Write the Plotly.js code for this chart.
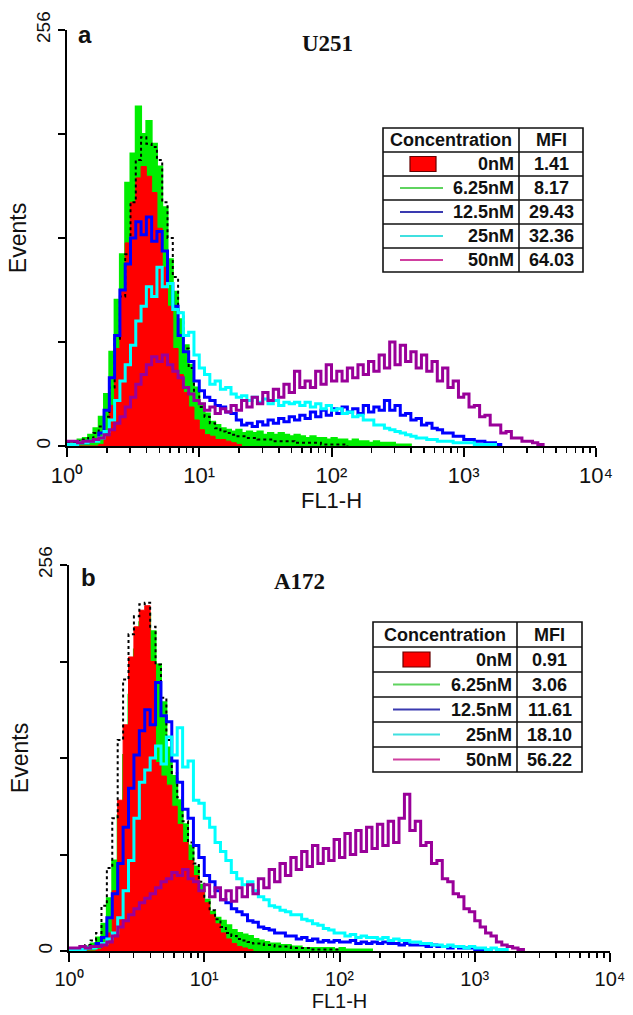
<!DOCTYPE html>
<html>
<head>
<meta charset="utf-8">
<script src="https://cdn.plot.ly/plotly-3.0.1.min.js"></script>
<style>html,body{margin:0;padding:0;background:#fff;}#chart{width:633px;height:1015px;}</style>
</head>
<body>
<div id="chart"></div>
<script>
// FL1-H channel values (log bins, 25 per decade)
const fl1Channels = [1,1.096,1.202,1.318,1.445,1.585,1.738,1.905,2.089,2.291,2.512,2.754,3.020,3.311,3.631,3.981,4.365,4.786,5.248,5.754,6.310,6.918,7.586,8.318,9.120,
 10,10.96,12.02,13.18,14.45,15.85,17.38,19.05,20.89,22.91,25.12,27.54,30.20,33.11,36.31,39.81,43.65,47.86,52.48,57.54,63.10,69.18,75.86,83.18,91.20,
 100,109.6,120.2,131.8,144.5,158.5,173.8,190.5,208.9,229.1,251.2,275.4,302.0,331.1,363.1,398.1,436.5,478.6,524.8,575.4,631.0,691.8,758.6,831.8,912.0,
 1000,1096,1202,1318,1445,1585,1738,1905,2089,2291,2512,2754,3020,3311,3631,3981];

const concentrations = ['0nM','6.25nM','12.5nM','25nM','50nM'];
const mfiU251 = [1.41, 8.17, 29.43, 32.36, 64.03];
const mfiA172 = [0.91, 3.06, 11.61, 18.10, 56.22];
const xTickVals = [1,10,100,1000,10000];
const xTickText = ['10\u2070','10\u00b9','10\u00b2','10\u00b3','10\u2074'];
const yTickVals = [0,256];
const yTickText = ['0','256'];
const yMinorTickVals = [64,128,192];

// ---- U251 (panel a) event counts per channel ----
const u251_0nM = [0,0,0,0,0,0,1,6,25,60, 95,125,150,165,172,166,156,134,110,86, 60,44,33,24,16,10,7,6,4,4, 3,2,1,0];
const u251_625nM = [3,2,4,5,7,11,18,32,58,90, 118,162,180,209,192,200,186,172,147,115, 95,78,62,50,36,26,20,15,13,11,
 10,9,10,8,9,8,9,7,8,7, 8,7,6,7,6,5,6,5,5,4, 5,4,4,3,4,3,3,2,3,2, 2,2,1,1,1,0];
const u251_125nM = [1,1,2,2,3,4,8,22,42,68, 96,112,128,138,130,141,126,132,120,100, 86,68,58,52,40,34,30,28,25,24,
 21,20,16,13,14,12,15,13,16,14, 17,15,18,16,19,17,21,18,22,19, 23,20,24,21,23,20,25,21,24,22,
 28,22,25,19,20,16,17,13,14,11, 10,8,8,6,6,4,4,3,3,2, 2,1,0];
const u251_25nM = [1,1,2,2,3,3,5,9,16,28, 40,50,62,77,86,98,92,110,98,100, 84,82,68,70,56,48,44,38,40,35,
 36,32,30,31,28,30,27,29,26,28, 25,27,26,27,25,27,24,26,23,25, 22,23,20,21,18,19,16,16,13,13,
 11,10,9,8,7,6,5,5,4,4, 3,3,3,2,2,2,2,1,1,1, 1,0];
const u251_50nM = [3,3,2,3,3,4,5,7,10,14, 18,24,30,38,44,50,55,52,56,50, 46,42,36,32,28,26,22,24,20,23,
 21,25,22,28,24,30,26,33,28,35, 30,38,33,46,36,40,36,46,38,50, 40,46,40,48,42,50,44,52,46,56,
 48,64,50,62,52,58,48,56,46,52, 40,48,36,40,30,32,24,25,18,19, 13,13,8,9,5,5,3,3,2,1, 0];
const u251_outline = [2,2,3,4,5,8,12,18,36,66, 92,118,150,176,190,186,184,176,150,128, 104,82,60,48,34,24,18,14,11,9,
 8,7,6,6,5,5,4,4,4,3, 3,3,3,2,2,2,2,2,1,1, 1,1,1,0];

// ---- A172 (panel b) event counts per channel ----
const a172_0nM = [0,0,0,0,0,1,3,12,40,100, 150,195,215,226,229,192,125,116,110,96, 84,72,60,50,40,32,24,18,12,8, 5,3,2,1,0];
const a172_625nM = [1,1,2,3,5,9,18,35,60,90, 130,170,200,218,224,212,190,165,135,116, 100,84,70,56,44,34,26,22,20,17,
 14,12,11,10,8,7,6,5,5,4, 4,3,3,2,2,2,2,2,2,1, 2,1,1,1,1,1,0];
const a172_125nM = [1,1,1,2,3,5,9,22,38,58, 82,108,130,146,160,150,178,156,152,126, 112,94,88,70,62,50,46,40,34,32,
 28,26,24,20,19,16,15,14,12,12, 10,10,8,9,7,8,6,7,6,7, 6,6,7,5,6,5,6,5,6,5,
 5,4,5,4,4,4,3,4,3,3, 2,3,2,2,2,1,1,1,0];
const a172_25nM = [1,1,1,2,2,3,5,8,12,22, 40,60,88,112,120,128,136,124,142,130, 148,122,126,100,98,88,82,72,66,60,
 52,48,44,46,40,36,34,30,29,27, 26,24,24,21,20,18,17,15,14,12, 12,10,11,9,10,9,9,8,9,7,
 8,7,7,6,6,5,5,4,4,3, 4,3,3,2,3,2,2,1,2,1, 1,0];
const a172_50nM = [2,2,3,2,3,3,4,6,10,16, 20,24,28,32,35,38,42,46,48,52, 50,54,48,46,40,44,36,42,34,40,
 33,42,36,44,38,48,42,54,46,58, 50,62,54,66,56,70,58,68,60,74, 62,78,64,80,66,82,68,84,70,86,
 72,88,104,80,86,70,72,58,60,48, 46,38,36,28,26,20,16,12,10,6, 4,3,2,1,0];
const a172_outline = [1,2,2,4,7,12,30,55,88,140, 180,210,222,230,231,215,190,168,140,118, 102,86,72,58,46,36,27,21,16,12,
 10,8,7,6,5,5,4,4,3,3, 3,2,2,2,2,1,1,1,1,1,0];

// ---- styles ----
const W = 633, H = 1015;
const X = px => px / W;
const Y = py => 1 - py / H;
const SANS = 'Liberation Sans, Arial, sans-serif';
const SERIF = 'Liberation Serif, Times New Roman, serif';
const seriesColors = ['#ff0000','#00ee00','#0000ff','#00ffff','#990099'];
const iconColors = ['#ff0000','#5fd35f','#3a3ab0','#40e0e0','#d040a0'];

function hist(ys, color, xa, ya, name, opts) {
  opts = opts || {};
  const t = {
    type: 'scatter', mode: 'lines', name: name,
    x: fl1Channels.slice(0, ys.length), y: ys,
    xaxis: xa, yaxis: ya, showlegend: false, hoverinfo: 'skip',
    line: {shape: 'hv', color: color, width: opts.width || 3, dash: opts.dash || 'solid'}
  };
  if (opts.fill) { t.fill = 'tozeroy'; t.fillcolor = color; }
  return t;
}

function panelTraces(s, xa, ya) {
  return [
    hist(s[1], seriesColors[1], xa, ya, '6.25nM', {fill: true, width: 2}),
    hist(s[0], seriesColors[0], xa, ya, '0nM', {fill: true, width: 1}),
    hist(s[5], '#000000', xa, ya, 'outline', {dash: 'dot', width: 2}),
    hist(s[2], seriesColors[2], xa, ya, '12.5nM', {width: 3}),
    hist(s[3], seriesColors[3], xa, ya, '25nM', {width: 3}),
    hist(s[4], seriesColors[4], xa, ya, '50nM', {width: 3})
  ];
}

const data = [].concat(
  panelTraces([u251_0nM, u251_625nM, u251_125nM, u251_25nM, u251_50nM, u251_outline], 'x', 'y'),
  panelTraces([a172_0nM, a172_625nM, a172_125nM, a172_25nM, a172_50nM, a172_outline], 'x2', 'y2')
);

const minorVals = [];
[1,10,100,1000].forEach(d => { for (let m = 2; m <= 9; m++) minorVals.push(d * m); });

function xAxis(domain, anchor, standoff, tickSize, titleSize) {
  return {
    domain: domain, anchor: anchor, type: 'log', range: [0, 4],
    showgrid: false, zeroline: false, showline: true, linecolor: '#000', linewidth: 2,
    tickvals: xTickVals, ticktext: xTickText, ticks: 'outside', ticklen: 9, tickwidth: 2, tickcolor: '#000',
    tickfont: {family: SANS, size: tickSize, color: '#111'},
    minor: {tickvals: minorVals, ticks: 'outside', ticklen: 5, tickwidth: 1.5, tickcolor: '#000', showgrid: false},
    title: {text: 'FL1-H', font: {family: SANS, size: titleSize, color: '#111'}, standoff: standoff},
    fixedrange: true
  };
}
function yAxis(domain, anchor) {
  return {
    domain: domain, anchor: anchor, range: [0, 256],
    showgrid: false, zeroline: false, showline: true, linecolor: '#000', linewidth: 2,
    tickvals: yTickVals, ticktext: yTickText, ticks: 'outside', ticklen: 7, tickwidth: 2, tickcolor: '#000',
    minor: {tickvals: yMinorTickVals, ticks: 'outside', ticklen: 7, tickwidth: 2, tickcolor: '#000', showgrid: false},
    tickangle: -90, tickfont: {family: SANS, size: 19, color: '#111'},
    title: {text: 'Events', font: {family: SANS, size: 23, color: '#111'}, standoff: 0},
    fixedrange: true
  };
}

const shapes = [];
const annotations = [];

function table(cfg, mfi) {
  const bottom = cfg.top + 6 * cfg.rowH;
  const ln = {color: '#111', width: 1.6};
  shapes.push({type: 'rect', xref: 'paper', yref: 'paper', x0: X(cfg.left), x1: X(cfg.right), y0: Y(bottom), y1: Y(cfg.top), line: ln, fillcolor: 'white', layer: 'above'});
  shapes.push({type: 'line', xref: 'paper', yref: 'paper', x0: X(cfg.div), x1: X(cfg.div), y0: Y(bottom), y1: Y(cfg.top), line: ln, layer: 'above'});
  for (let i = 1; i < 6; i++) {
    const yy = cfg.top + i * cfg.rowH;
    shapes.push({type: 'line', xref: 'paper', yref: 'paper', x0: X(cfg.left), x1: X(cfg.right), y0: Y(yy), y1: Y(yy), line: ln, layer: 'above'});
  }
  const txt = (text, px, py, anchor) => annotations.push({
    xref: 'paper', yref: 'paper', x: X(px), y: Y(py), xanchor: anchor, yanchor: 'middle',
    text: text, showarrow: false, font: {family: SANS, size: 18, color: '#111', weight: 'bold'}
  });
  const midY = r => cfg.top + r * cfg.rowH + cfg.rowH / 2;
  txt('Concentration', (cfg.left + cfg.div) / 2, midY(0), 'center');
  txt('MFI', (cfg.div + cfg.right) / 2, midY(0), 'center');
  concentrations.forEach((c, i) => {
    const yy = midY(i + 1);
    txt(c, cfg.div - 3, yy, 'right');
    txt(mfi[i].toFixed(2), (cfg.div + cfg.right) / 2, yy, 'center');
    if (i === 0) {
      shapes.push({type: 'rect', xref: 'paper', yref: 'paper', x0: X(cfg.box[0]), x1: X(cfg.box[1]), y0: Y(yy + 7.5), y1: Y(yy - 7.5),
        line: {color: '#600', width: 1.2}, fillcolor: iconColors[0], layer: 'above'});
    } else {
      shapes.push({type: 'line', xref: 'paper', yref: 'paper', x0: X(cfg.seg[0]), x1: X(cfg.seg[1]), y0: Y(yy), y1: Y(yy),
        line: {color: iconColors[i], width: 2}, layer: 'above'});
    }
  });
}

table({left: 383, right: 583, div: 519, top: 128, rowH: 24, box: [410, 436], seg: [400, 443]}, mfiU251);
table({left: 373, right: 582, div: 517, top: 622, rowH: 25, box: [403, 430], seg: [393, 440]}, mfiA172);

const label = (text, px, py, family, size) => annotations.push({
  xref: 'paper', yref: 'paper', x: X(px), y: Y(py), xanchor: 'center', yanchor: 'middle',
  text: text, showarrow: false, font: {family: family, size: size, color: '#111', weight: 'bold'}
});
label('a', 85, 35, SANS, 24);
label('U251', 327, 44, SERIF, 23);
label('b', 88, 577, SANS, 24);
label('A172', 299, 581, SERIF, 23);

const layout = {
  width: W, height: H,
  margin: {l: 0, r: 0, t: 0, b: 0},
  paper_bgcolor: '#fff', plot_bgcolor: '#fff',
  showlegend: false,
  xaxis: xAxis([67 / W, 596 / W], 'y', 4, 22, 22),
  yaxis: yAxis([(H - 446) / H, (H - 30) / H], 'x'),
  xaxis2: xAxis([69 / W, 610 / W], 'y2', 2, 20, 20),
  yaxis2: yAxis([(H - 951) / H, (H - 565) / H], 'x2'),
  shapes: shapes,
  annotations: annotations
};

Plotly.newPlot('chart', data, layout, {displayModeBar: false, staticPlot: true});
</script>
</body>
</html>
